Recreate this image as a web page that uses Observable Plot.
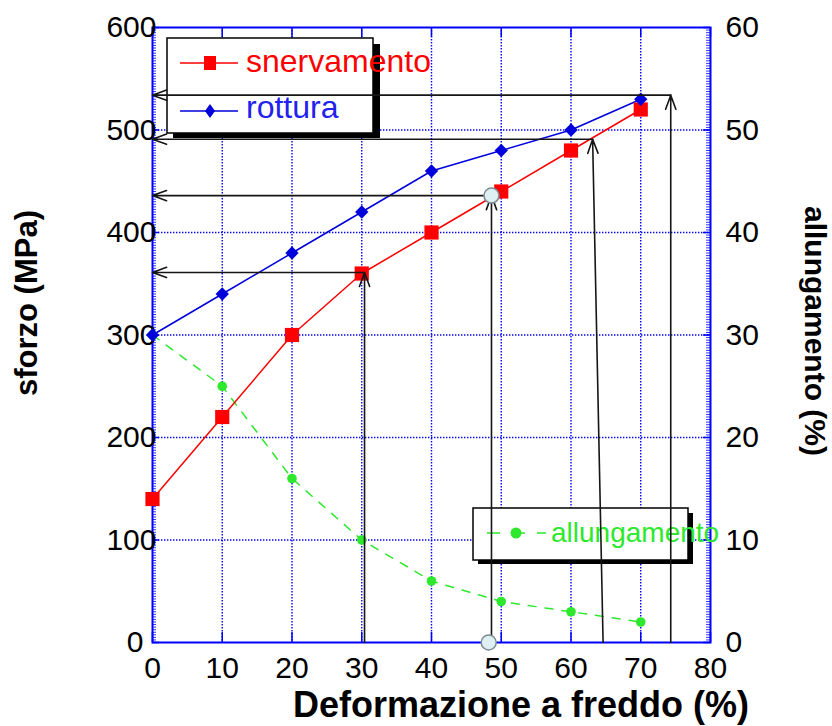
<!DOCTYPE html>
<html>
<head>
<meta charset="utf-8">
<script src="https://cdn.jsdelivr.net/npm/d3@7"></script>
<script src="https://cdn.jsdelivr.net/npm/@observablehq/plot@0.6"></script>
<style>
  html, body { margin: 0; padding: 0; background: white; }
  svg { display: block; }
</style>
</head>
<body>
<script>
// ---- data ----
const deformazione = [0, 10, 20, 30, 40, 50, 60, 70];
const snervamento  = [140, 220, 300, 360, 400, 440, 480, 520];
const rottura      = [300, 340, 380, 420, 460, 480, 500, 530];
const allungamento = [30, 25, 16, 10, 6, 4, 3, 2];

const xTicks      = [0, 10, 20, 30, 40, 50, 60, 70, 80];
const yTicksLeft  = [0, 100, 200, 300, 400, 500, 600];
const yTicksRight = [0, 10, 20, 30, 40, 50, 60];

// guide (annotation) lines
const guideY       = [361, 436, 491, 534];
const guideXTop    = [30.4, 48.6, 63.1, 74.3];
const guideXBottom = [30.4, 48.6, 64.6, 74.3];
const circlePts    = [{x: 48.6, y: 436}, {x: 48.2, y: 0}];

// ---- derived tables ----
const rightFactor = 600 / 60;
const table = deformazione.map((x, i) => ({
  x, snerv: snervamento[i], rott: rottura[i], allung: allungamento[i] * rightFactor
}));
const guides = guideY.map((y, i) => ({y, xt: guideXTop[i], xb: guideXBottom[i]}));
const minorY = d3.range(0, 600.01, 2.5);

const W = 832, H = 726;
const mL = 152, mR = 122, mT = 27, mB = 84;
const pw = W - mL - mR, ph = H - mT - mB;

const BLUE = "#0000ff", RED = "#ff0000", RBLUE = "#0000dd", GREEN = "#2de82d";
const FONT = "'Liberation Sans', Arial, sans-serif";

const svg = Plot.plot({
  width: W, height: H,
  marginLeft: mL, marginRight: mR, marginTop: mT, marginBottom: mB,
  style: {fontFamily: FONT, background: "white", color: "black"},
  x: {domain: [0, 80], axis: null},
  y: {domain: [0, 600], axis: null},
  marks: [
    Plot.gridX(xTicks.slice(1, -1), {stroke: BLUE, strokeOpacity: 1, strokeWidth: 1.4, strokeDasharray: "1.4,1.6"}),
    Plot.gridY(yTicksLeft.slice(1, -1), {stroke: BLUE, strokeOpacity: 1, strokeWidth: 1.4, strokeDasharray: "1.4,1.6"}),
    // inward ticks
    Plot.tickX(xTicks, {x: d => d, stroke: BLUE, strokeWidth: 1.5, insetTop: ph - 10}),
    Plot.tickX(xTicks, {x: d => d, stroke: BLUE, strokeWidth: 1.5, insetBottom: ph - 10}),
    Plot.tickY(yTicksLeft, {y: d => d, stroke: BLUE, strokeWidth: 1.5, insetRight: pw - 7}),
    Plot.tickY(yTicksLeft, {y: d => d, stroke: BLUE, strokeWidth: 1.5, insetLeft: pw - 7}),
    Plot.tickY(minorY, {y: d => d, stroke: BLUE, strokeWidth: 0.8, insetRight: pw - 4}),
    Plot.tickY(minorY, {y: d => d, stroke: BLUE, strokeWidth: 0.8, insetLeft: pw - 4}),
    Plot.frame({stroke: BLUE, strokeWidth: 2}),
    // tick labels
    Plot.axisX(xTicks, {anchor: "bottom", tickSize: 0, tickPadding: 14, fontSize: 30, label: null, fill: "black"}),
    Plot.axisY(yTicksLeft.filter(d => d > 0), {anchor: "left", tickSize: 0, tickPadding: -4, fontSize: 30, label: null, fill: "black"}),
    Plot.axisY([0], {anchor: "left", tickSize: 0, tickPadding: 9, fontSize: 30, label: null, fill: "black"}),
    Plot.axisY(yTicksRight.map(v => v * rightFactor), {anchor: "right", tickSize: 0, tickPadding: 15, fontSize: 30, label: null, fill: "black", tickFormat: d => d / rightFactor}),
    // series
    Plot.line(table, {x: "x", y: "allung", stroke: GREEN, strokeWidth: 1.5, strokeDasharray: "8,9"}),
    Plot.line(table, {x: "x", y: "snerv", stroke: RED, strokeWidth: 1.5}),
    Plot.line(table, {x: "x", y: "rott", stroke: RBLUE, strokeWidth: 1.5}),
    Plot.dot(table, {x: "x", y: "allung", r: 4.8, fill: GREEN, stroke: null}),
    Plot.dot(table, {x: "x", y: "snerv", symbol: "square", r: 8, fill: RED, stroke: null}),
    Plot.dot(table, {x: "x", y: "rott", symbol: "diamond2", r: 6, fill: RBLUE, stroke: null}),
    // guide arrows
    Plot.arrow(guides, {x1: "xb", y1: 0, x2: "xt", y2: "y", stroke: "#161616", strokeWidth: 1.6, headLength: 14, headAngle: 40}),
    Plot.arrow(guides, {x1: "xt", y1: "y", x2: 0, y2: "y", stroke: "#161616", strokeWidth: 1.6, headLength: 14, headAngle: 40}),
    Plot.dot(circlePts, {x: "x", y: "y", r: 7.5, fill: "#def0f4", stroke: "#7d8c92", strokeWidth: 1.5})
  ]
});

const s = d3.select(svg);

// ---- legends (below the guide arrows) ----
function legend1() {
  const g = s.insert("g", 'g[aria-label="arrow"]').attr("font-family", FONT).attr("text-anchor", "start");
  g.append("rect").attr("x", 173).attr("y", 44).attr("width", 207).attr("height", 94).attr("fill", "black");
  g.append("rect").attr("x", 167).attr("y", 38).attr("width", 206).attr("height", 95)
    .attr("fill", "white").attr("stroke", "black").attr("stroke-width", 1.5);
  g.append("line").attr("x1", 180).attr("x2", 238).attr("y1", 63).attr("y2", 63).attr("stroke", RED).attr("stroke-width", 1.5);
  g.append("rect").attr("x", 204).attr("y", 56).attr("width", 12).attr("height", 14).attr("fill", RED);
  g.append("text").attr("x", 246).attr("y", 72).attr("font-size", 32).attr("fill", RED).text("snervamento");
  g.append("line").attr("x1", 180).attr("x2", 238).attr("y1", 111).attr("y2", 111).attr("stroke", RBLUE).attr("stroke-width", 1.5);
  g.append("path").attr("d", "M210,104L215,111L210,118L205,111Z").attr("fill", RBLUE);
  g.append("text").attr("x", 246).attr("y", 118).attr("font-size", 32).attr("fill", "#2222ee").text("rottura");
}
function legend2() {
  const g = s.insert("g", 'g[aria-label="arrow"]').attr("font-family", FONT).attr("text-anchor", "start");
  g.append("rect").attr("x", 478).attr("y", 513).attr("width", 215).attr("height", 51).attr("fill", "black");
  g.append("rect").attr("x", 473).attr("y", 508).attr("width", 215).attr("height", 52)
    .attr("fill", "white").attr("stroke", "black").attr("stroke-width", 1.5);
  g.append("line").attr("x1", 487).attr("x2", 546).attr("y1", 533).attr("y2", 533)
    .attr("stroke", GREEN).attr("stroke-width", 1.5).attr("stroke-dasharray", "13,12");
  g.append("circle").attr("cx", 516).attr("cy", 533).attr("r", 5.5).attr("fill", GREEN);
  g.append("text").attr("x", 551).attr("y", 542).attr("font-size", 28).attr("fill", GREEN).text("allungamento");
}
legend1();
legend2();

// ---- axis titles ----
const t = s.append("g").attr("font-family", FONT).attr("font-weight", "bold").attr("fill", "black");
t.append("text").attr("transform", "translate(37,303) rotate(-90)").attr("text-anchor", "middle")
  .attr("font-size", 31).text("sforzo (MPa)");
t.append("text").attr("transform", "translate(805,331) rotate(90)").attr("text-anchor", "middle")
  .attr("font-size", 30).text("allungamento (%)");
t.append("text").attr("x", 521).attr("y", 717).attr("text-anchor", "middle")
  .attr("font-size", 36).text("Deformazione a freddo (%)");

document.body.appendChild(svg);
</script>
</body>
</html>
